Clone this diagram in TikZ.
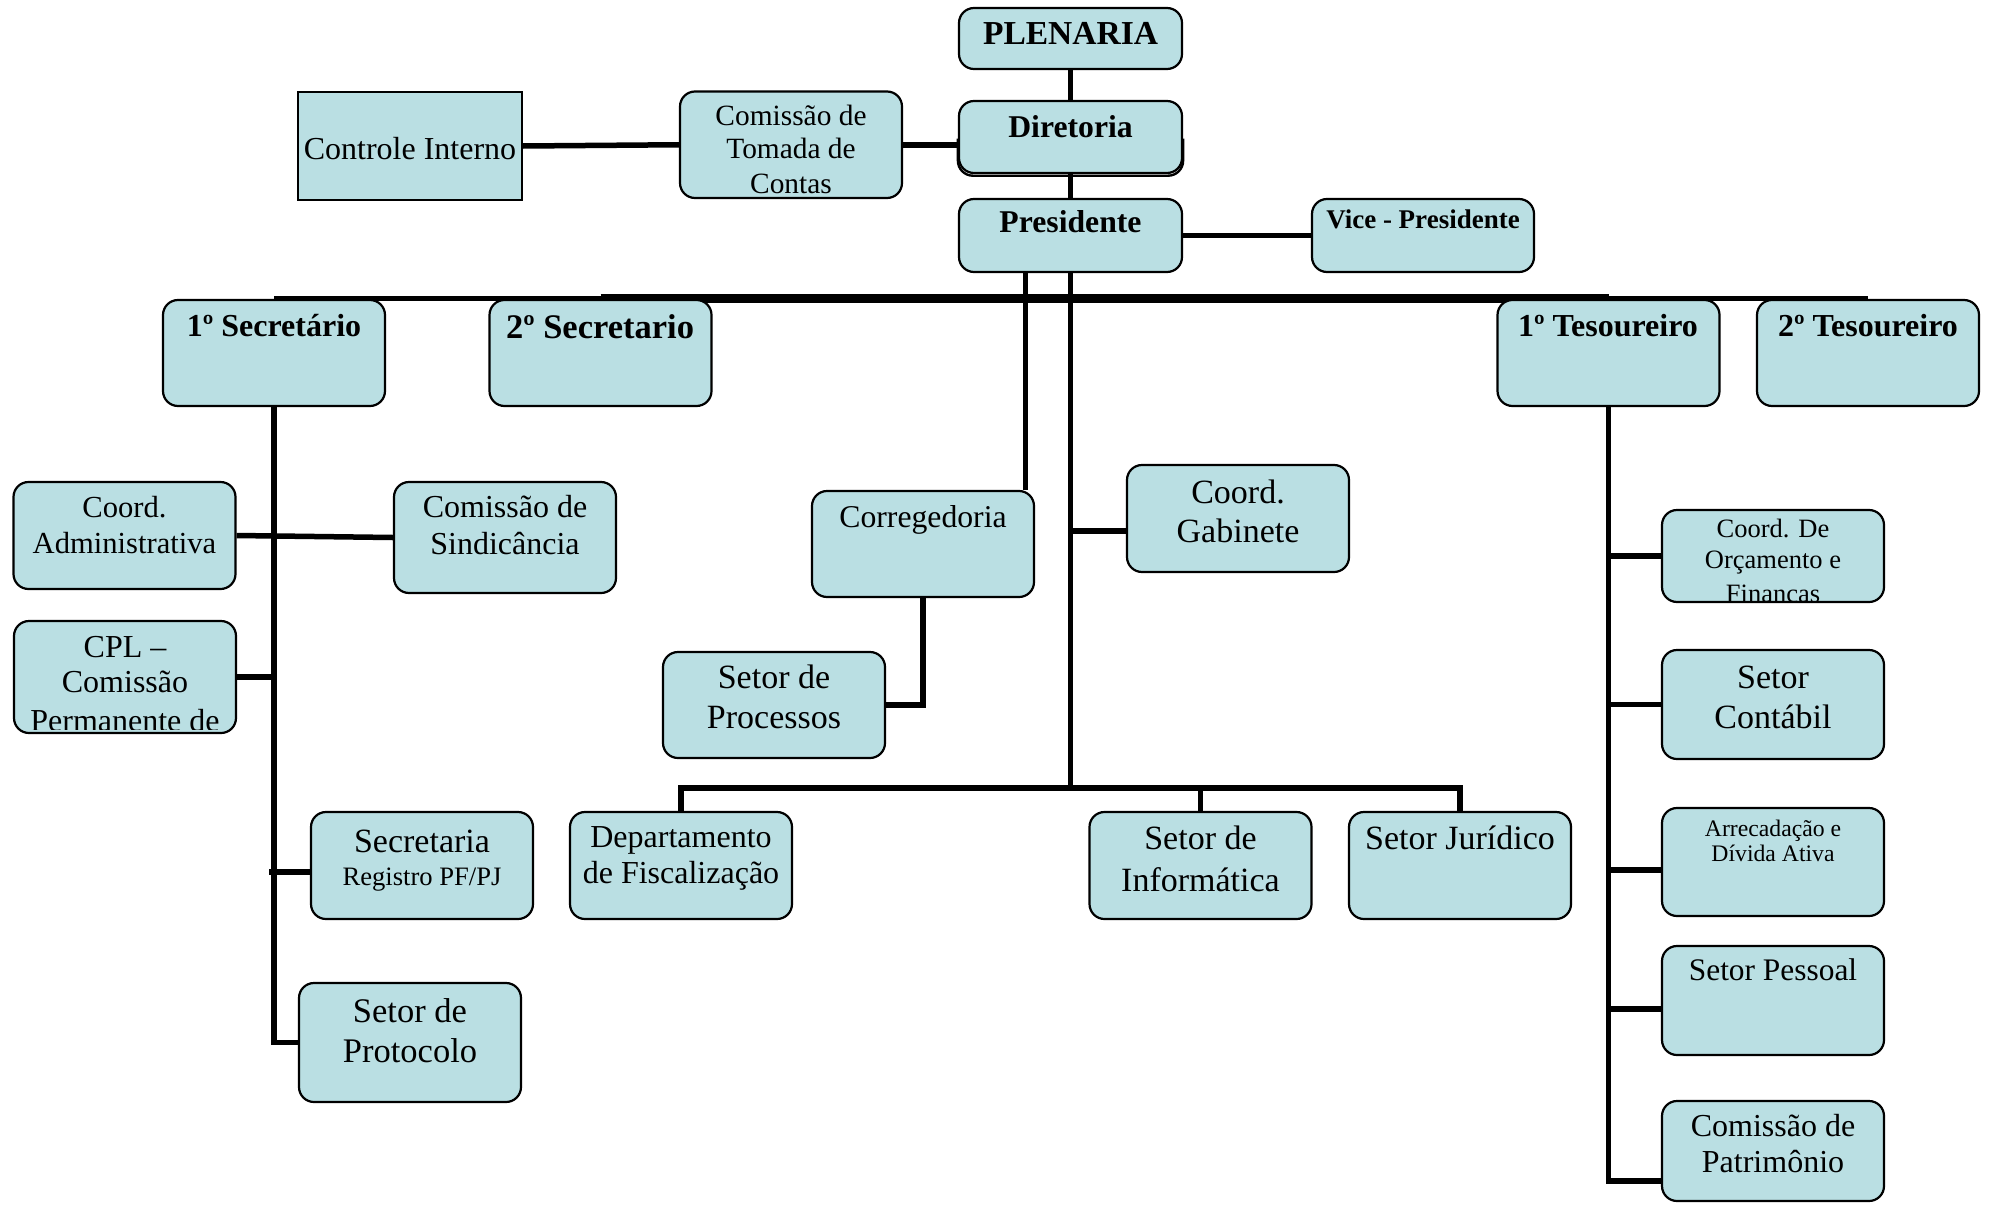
\documentclass[tikz,border=0pt]{standalone}
\usepackage{fontspec}
\setmainfont{Liberation Serif}
\usetikzlibrary{calc,backgrounds}
\definecolor{boxfill}{RGB}{186,223,227}
\newcommand\fr[1]{\fontsize{#1}{#1}\selectfont}
\newcommand\fb[1]{\fontsize{#1}{#1}\selectfont\bfseries}
\begin{document}
\begin{tikzpicture}[x=1pt,y=-1pt,
  box/.style={draw=black, line width=2.2pt, fill=boxfill, rounded corners=15pt, inner sep=0pt, minimum width=222pt},
  t/.style={anchor=base, inner sep=0pt},
  ln/.style={line width=5.5pt},
  bar/.style={line width=9pt}]
\useasboundingbox (0,0) rectangle (1993,1204);
% boxes
\node[box, minimum height=61pt, minimum width=223pt] (pl) at (1070.5,38.5) {};
\node[box, minimum height=72pt, minimum width=223pt] (dir) at (1070.5,137) {};
\draw[line width=2.4pt, rounded corners=15pt] ($(dir.west)+(0,1.6)$) -- ($(dir.south west)+(0,1.6)$) -- ($(dir.south east)+(0,1.6)$) -- ($(dir.east)+(0,1.6)$);
\node[box, minimum height=73pt, minimum width=223pt] (pres) at (1070.5,235.5) {};
\node[box, minimum height=73pt] (vice) at (1423,235.5) {};
\node[box, minimum height=106.5pt] (cmt) at (791,144.75) {};
\node[box, rounded corners=0pt, minimum height=108pt, minimum width=224pt] (ci) at (410,146) {};
\node[box, minimum height=106pt] (sec1) at (274,353) {};
\node[box, minimum height=106pt] (sec2) at (600.5,353) {};
\node[box, minimum height=106pt] (tes1) at (1608.5,353) {};
\node[box, minimum height=106pt] (tes2) at (1868,353) {};
\node[box, minimum height=107pt] (adm) at (124.5,535.5) {};
\node[box, minimum height=111pt] (sind) at (505,537.5) {};
\node[box, minimum height=112pt] (cpl) at (125,677) {};
\node[box, minimum height=107pt] (secr) at (422,865.5) {};
\node[box, minimum height=119pt] (prot) at (410,1042.5) {};
\node[box, minimum height=106pt] (corr) at (923,544) {};
\node[box, minimum height=107pt] (gab) at (1238,518.5) {};
\node[box, minimum height=106pt] (proc) at (774,705) {};
\node[box, minimum height=107pt] (dept) at (681,865.5) {};
\node[box, minimum height=107pt] (info) at (1200.5,865.5) {};
\node[box, minimum height=107pt] (jur) at (1460,865.5) {};
\node[box, minimum height=92pt] (cdo) at (1773,556) {};
\node[box, minimum height=109pt] (cont) at (1773,704.5) {};
\node[box, minimum height=108pt] (arr) at (1773,862) {};
\node[box, minimum height=109pt] (pes) at (1773,1000.5) {};
\node[box, minimum height=100pt] (pat) at (1773,1151) {};
% helper coordinates
\coordinate (hb) at (1070.5,788);
\coordinate (gabc) at ([yshift=-12.5pt]gab.west);
\coordinate (secc) at ([yshift=-6.5pt]secr.west);
\coordinate (arrc) at ([yshift=-8pt]arr.west);
\coordinate (pesc) at ([yshift=-8.5pt]pes.west);
\coordinate (patc) at ([yshift=-30pt]pat.west);
\coordinate (cmtc) at (cmt.east);
\coordinate (crg) at ([xshift=-45pt]pres.south);
% connectors
\begin{pgfonlayer}{background}
\draw[ln] (pl.south) -- (dir.north);
\draw[ln] (dir.south) -- (pres.north);
\draw[ln] (ci.east) -- (cmt.west);
\draw[ln] (cmtc) -- (cmtc -| dir.west);
\draw[ln] (pres.east) -- (vice.west);
\draw[line width=5pt] (sec1.north) -- (sec2.north);
\draw[bar] (sec2.north) -- (tes1.north);
\draw[line width=5pt] (tes1.north) -- (tes2.north);
\draw[ln] (crg) -- (crg |- corr.north);
\draw[ln] (pres.south) -- (hb);
\draw[ln] (gabc) -- (gabc -| hb);
\draw[ln] (corr.south) |- (proc.east);
\draw[ln] (dept.north) -- (dept.north |- hb) -- (jur.north |- hb) -- (jur.north);
\draw[ln] (info.north) -- (info.north |- hb);
\draw[ln] (sec1.south) |- (prot.west);
\draw[ln] (adm.east) -- (sind.west);
\draw[ln] (cpl.east) -- (cpl.east -| sec1.south);
\draw[ln] (secc) -- ($(secc -| sec1.south)+(-5,0)$);
\draw[ln] (tes1.south) |- (patc);
\draw[ln] (cdo.west) -- (cdo.west -| tes1.south);
\draw[ln] (cont.west) -- (cont.west -| tes1.south);
\draw[ln] (arrc) -- (arrc -| tes1.south);
\draw[ln] (pesc) -- (pesc -| tes1.south);
\end{pgfonlayer}
% texts
\node[t, font=\fb{33.5}] (plt) at (1070.5,45) {PLENARIA};
\node[t, font=\fb{31.7}] (dirt) at (1070.5,137) {Diretoria};
\node[t, font=\fb{31.7}] (prest) at (1070.5,232) {Presidente};
\node[t, font=\fb{27}] (vicet) at (1423,228) {Vice - Presidente};
\node[t, font=\fr{32}] (cit) at (410,159) {Controle Interno};
\node[t, font=\fr{29.4}] (cmt1) at (791,125) {Comissão de};
\node[t, font=\fr{29.4}] (cmt2) at (791,158) {Tomada de};
\node[t, font=\fr{29.4}] (cmt3) at (791,193) {Contas};
\node[t, font=\fb{32}] (sec1t) at (274,336) {1º Secretário};
\node[t, font=\fb{34.5}] (sec2t) at (600,338) {2º Secretario};
\node[t, font=\fb{32}] (tes1t) at (1608,336) {1º Tesoureiro};
\node[t, font=\fb{32}] (tes2t) at (1868,336) {2º Tesoureiro};
\node[t, font=\fr{30.6}] (adm1) at (124.5,517) {Coord.};
\node[t, font=\fr{30.6}] (adm2) at (124.5,553) {Administrativa};
\node[t, font=\fr{32}] (sind1) at (505,517) {Comissão de};
\node[t, font=\fr{32}] (sind2) at (505,554) {Sindicância};
\begin{scope}
\clip (cpl.north west) rectangle ($(cpl.south east)+(0,-5)$);
\node[t, font=\fr{32}] (cpl1) at (125,657) {CPL –};
\node[t, font=\fr{32}] (cpl2) at (125,692) {Comissão};
\node[t, font=\fr{32}] (cpl3) at (125,731) {Permanente de};
\end{scope}
\node[t, font=\fr{34}] (secr1) at (422,852) {Secretaria};
\node[t, font=\fr{26.6}] (secr2) at (422,885) {Registro PF/PJ};
\node[t, font=\fr{34.5}] (prot1) at (410,1022) {Setor de};
\node[t, font=\fr{34.5}] (prot2) at (410,1062) {Protocolo};
\node[t, font=\fr{31.7}] (corrt) at (923,527) {Corregedoria};
\node[t, font=\fr{34}] (gab1) at (1238,503) {Coord.};
\node[t, font=\fr{34}] (gab2) at (1238,542) {Gabinete};
\node[t, font=\fr{34}] (proc1) at (774,688) {Setor de};
\node[t, font=\fr{34}] (proc2) at (774,728) {Processos};
\node[t, font=\fr{32}] (dept1) at (681,847) {Departamento};
\node[t, font=\fr{32}] (dept2) at (681,883) {de Fiscalização};
\node[t, font=\fr{34}] (info1) at (1200.5,849) {Setor de};
\node[t, font=\fr{34}] (info2) at (1200.5,891) {Informática};
\node[t, font=\fr{34}] (jurt) at (1460,849) {Setor Jurídico};
\begin{scope}
\clip (cdo.north west) rectangle ($(cdo.south east)+(0,-3)$);
\node[t, font=\fr{26.5}] (cdo1) at (1773,537) {Coord. De};
\node[t, font=\fr{26.5}] (cdo2) at (1773,568) {Orçamento e};
\node[t, font=\fr{26.5}] (cdo3) at (1773,602) {Financas};
\end{scope}
\node[t, font=\fr{34}] (cont1) at (1773,688) {Setor};
\node[t, font=\fr{34}] (cont2) at (1773,728) {Contábil};
\node[t, font=\fr{23.7}] (arr1) at (1773,836) {Arrecadação e};
\node[t, font=\fr{23.7}] (arr2) at (1773,861) {Dívida Ativa};
\node[t, font=\fr{31.4}] (pest) at (1773,980) {Setor Pessoal};
\node[t, font=\fr{32}] (pat1) at (1773,1136) {Comissão de};
\node[t, font=\fr{32}] (pat2) at (1773,1172) {Patrimônio};
\end{tikzpicture}
\end{document}
